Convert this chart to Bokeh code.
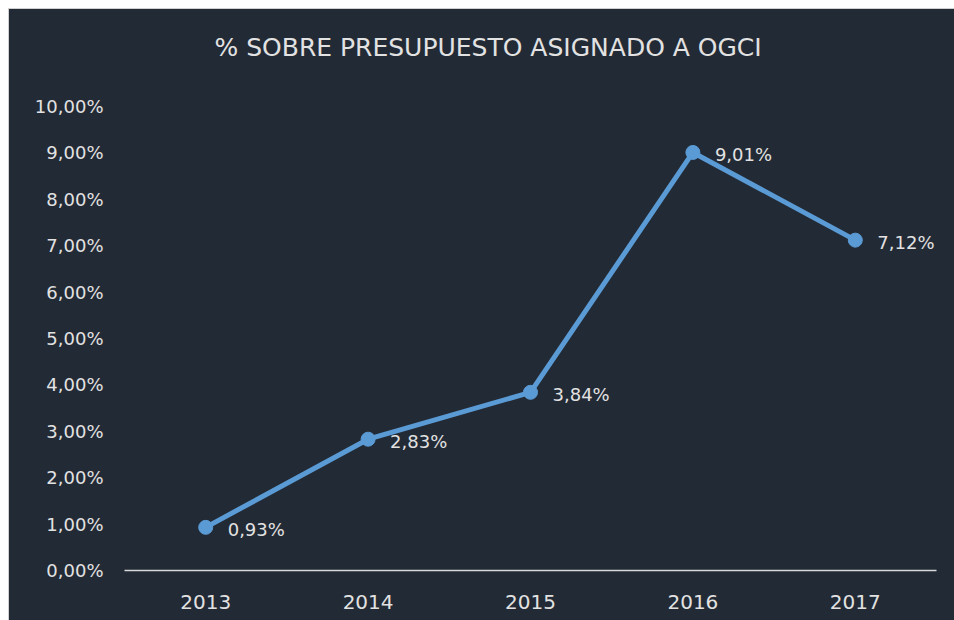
from bokeh.plotting import figure
from bokeh.layouts import column
from bokeh.models import ColumnDataSource, FixedTicker, CustomJSTickFormatter, Title
from bokeh.core.properties import value
from bokeh.embed import file_html
from bokeh.resources import INLINE

years = ["2013", "2014", "2015", "2016", "2017"]
pct = [0.93, 2.83, 3.84, 9.01, 7.12]
pct_labels = ["0,93%", "2,83%", "3,84%", "9,01%", "7,12%"]
y_ticks = [0, 1, 2, 3, 4, 5, 6, 7, 8, 9, 10]
title_text = "% SOBRE PRESUPUESTO ASIGNADO A OGCI"

BG = "#222a35"
TXT = "#e2e2e2"
LINE = "#5b9bd5"
FONT = "DejaVu Sans"

src = ColumnDataSource(dict(x=years, y=pct, lab=pct_labels))

p = figure(x_range=years, y_range=(0, 10), width=945, height=611, title=None,
           output_backend="svg", toolbar_location=None,
           min_border_left=115, min_border_right=18, min_border_top=97, min_border_bottom=50)
p.background_fill_color = None
p.border_fill_color = None
p.styles = {"background-color": BG}
p.outline_line_color = None
p.grid.grid_line_color = None

# spacer between title and plot area
p.add_layout(Title(text=" ", text_font_size="1px", standoff=21), "above")
p.add_layout(Title(text=title_text, align="left", offset=90, text_font=FONT,
                   text_font_size="25px", text_font_style="normal",
                   text_color=TXT, standoff=42), "above")

p.line("x", "y", source=src, line_color=LINE, line_width=5)
p.scatter("x", "y", source=src, size=14, fill_color=LINE, line_color=LINE)
p.text("x", "y", text="lab", source=src, x_offset=22, y_offset=2,
       text_baseline="middle", text_align="left", text_color=TXT,
       text_font=value(FONT), text_font_size="18px")

ya = p.yaxis[0]
ya.ticker = FixedTicker(ticks=y_ticks)
ya.formatter = CustomJSTickFormatter(code="return tick.toFixed(2).replace('.', ',') + '%';")
ya.axis_line_color = None
ya.major_tick_line_color = None
ya.minor_tick_line_color = None
ya.major_label_text_color = TXT
ya.major_label_text_font = FONT
ya.major_label_text_font_size = "18px"
ya.major_label_standoff = 15

xa = p.xaxis[0]
xa.axis_line_color = "#d9d9d9"
xa.axis_line_width = 1.5
xa.major_tick_line_color = None
xa.minor_tick_line_color = None
xa.major_label_text_color = TXT
xa.major_label_text_font = FONT
xa.major_label_text_font_size = "20px"
xa.major_label_standoff = 18

lay = column(p, margin=(8, 0, 0, 8), styles={"background-color": "#d0d0d0", "padding": "1px 0 0 1px"})

open("out.html", "w").write(file_html(lay, INLINE))
